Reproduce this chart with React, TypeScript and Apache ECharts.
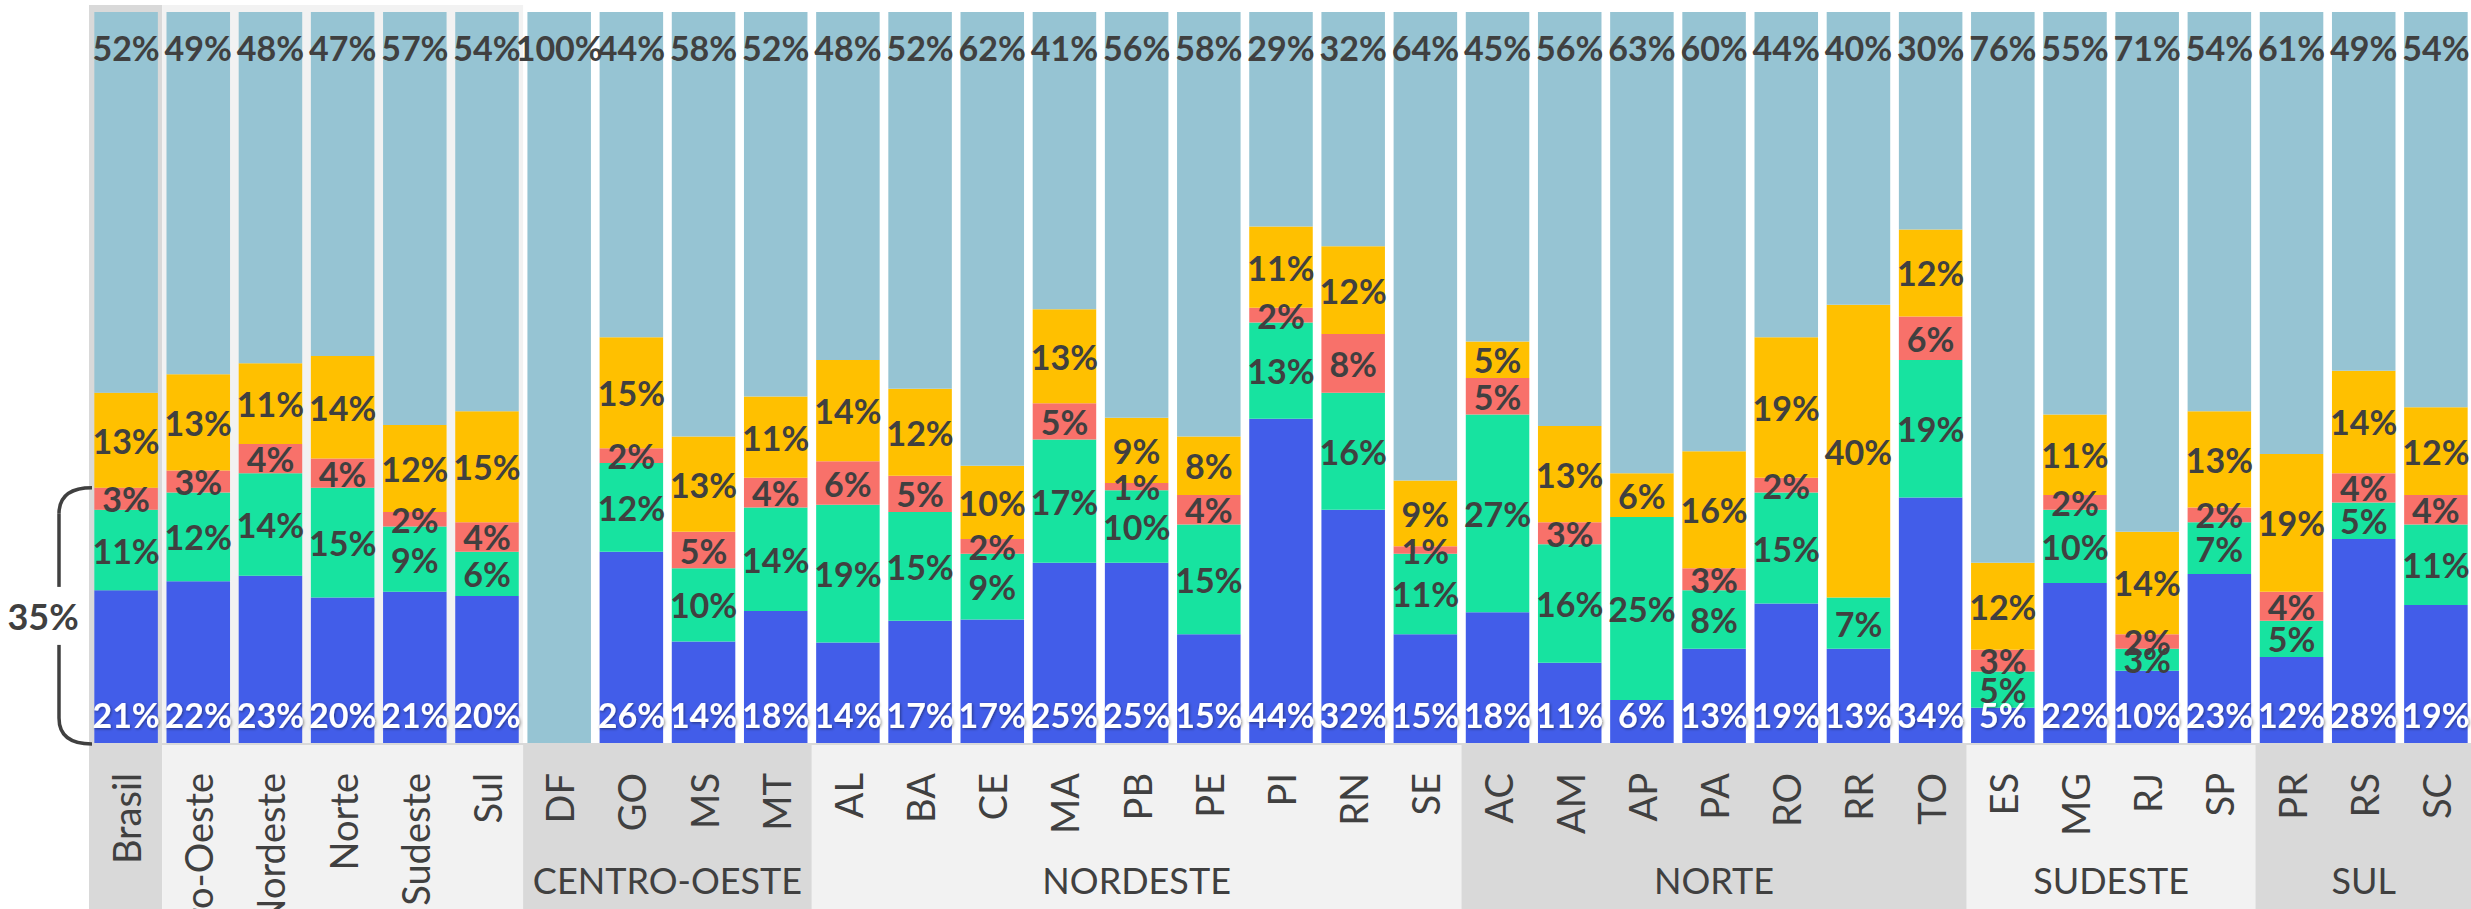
import React, { useEffect, useRef } from 'react';
import * as echarts from 'echarts';

const categories = ['Brasil', 'Centro-Oeste', 'Nordeste', 'Norte', 'Sudeste', 'Sul', 'DF', 'GO', 'MS', 'MT', 'AL', 'BA', 'CE', 'MA', 'PB', 'PE', 'PI', 'RN', 'SE', 'AC', 'AM', 'AP', 'PA', 'RO', 'RR', 'TO', 'ES', 'MG', 'RJ', 'SP', 'PR', 'RS', 'SC'];
const blueValues = [21, 22, 23, 20, 21, 20, 0, 26, 14, 18, 14, 17, 17, 25, 25, 15, 44, 32, 15, 18, 11, 6, 13, 19, 13, 34, 5, 22, 10, 23, 12, 28, 19];
const greenValues = [11, 12, 14, 15, 9, 6, 0, 12, 10, 14, 19, 15, 9, 17, 10, 15, 13, 16, 11, 27, 16, 25, 8, 15, 7, 19, 5, 10, 3, 7, 5, 5, 11];
const redValues = [3, 3, 4, 4, 2, 4, 0, 2, 5, 4, 6, 5, 2, 5, 1, 4, 2, 8, 1, 5, 3, 0, 3, 2, 0, 6, 3, 2, 2, 2, 4, 4, 4];
const yellowValues = [13, 13, 11, 14, 12, 15, 0, 15, 13, 11, 14, 12, 10, 13, 9, 8, 11, 12, 9, 5, 13, 6, 16, 19, 40, 12, 12, 11, 14, 13, 19, 14, 12];
const lightBlueValues = [52, 49, 48, 47, 57, 54, 100, 44, 58, 52, 48, 52, 62, 41, 56, 58, 29, 32, 64, 45, 56, 63, 60, 44, 40, 30, 76, 55, 71, 54, 61, 49, 54];

const groupNames = ['CENTRO-OESTE', 'NORDESTE', 'NORTE', 'SUDESTE', 'SUL'];
const groupFirst = ['DF', 'AL', 'AC', 'ES', 'PR'];
const groupLast = ['MT', 'SE', 'TO', 'SP', 'SC'];
const regionFirst = 'Centro-Oeste';
const regionLast = 'Sul';

const COLORS = {
  blue: '#425DE9',
  green: '#17E3A0',
  red: '#F8716A',
  yellow: '#FFC000',
  lightBlue: '#96C4D3',
};
const TEXT = '#404040';
const FONT = 'Lato';

export default function App() {
  const ref = useRef<HTMLDivElement>(null);

  useEffect(() => {
    const el = ref.current;
    if (!el) return;
    const chart = echarts.init(el, null, { renderer: 'svg' });

    const total = (i: number) =>
      blueValues[i] + greenValues[i] + redValues[i] + yellowValues[i] + lightBlueValues[i];
    const norm = (arr: number[]) => arr.map((v, i) => (v / total(i)) * 100);

    const baseLabel = {
      show: true,
      fontFamily: FONT,
      fontWeight: 'bold' as const,
      fontSize: 34,
      color: TEXT,
    };

    const mk = (name: string, arr: number[], color: string, label: any) => ({
      name,
      type: 'bar',
      stack: 'total',
      barCategoryGap: '12%',
      data: norm(arr),
      itemStyle: { color },
      label: {
        ...baseLabel,
        ...label,
        formatter: (p: any) => (arr[p.dataIndex] ? arr[p.dataIndex] + '%' : ''),
      },
    });

    chart.setOption({
      animation: false,
      grid: { left: 90, top: 12, width: 2382, height: 732, outerBoundsMode: 'none', containLabel: false },
      xAxis: {
        type: 'category',
        data: categories,
        z: 5,
        axisLine: { show: true, lineStyle: { color: '#D9D9D9', width: 2 } },
        axisTick: { show: false },
        axisLabel: {
          interval: 0,
          rotate: 90,
          margin: 29,
          fontFamily: FONT,
          fontSize: 38,
          color: TEXT,
        },
      },
      yAxis: { type: 'value', min: 0, max: 100, show: false, splitLine: { show: false } },
      series: [
        mk('blue', blueValues, COLORS.blue, {
          position: 'insideBottom',
          distance: 13,
          color: '#FFFFFF',
          textShadowColor: 'rgba(0,0,0,0.45)',
          textShadowBlur: 3,
          textShadowOffsetX: 1,
          textShadowOffsetY: 1,
        }),
        mk('green', greenValues, COLORS.green, { position: 'inside' }),
        mk('red', redValues, COLORS.red, { position: 'inside' }),
        mk('yellow', yellowValues, COLORS.yellow, { position: 'inside' }),
        mk('lightBlue', lightBlueValues, COLORS.lightBlue, { position: 'insideTop', distance: 18 }),
      ],
    });

    const xc = (c: string) => chart.convertToPixel({ xAxisIndex: 0 }, c) as number;
    const yp = (v: number) => chart.convertToPixel({ yAxisIndex: 0 }, v) as number;
    const bw = xc(categories[1]) - xc(categories[0]);
    const yBottom = yp(0);
    const H = 909;

    const graphics: any[] = [];
    graphics.push({
      type: 'rect', z: -1, silent: true,
      shape: { x: xc(categories[0]) - bw / 2 - 1, y: 5, width: bw + 1, height: H - 5 },
      style: { fill: '#D9D9D9' },
    });
    {
      const x0 = xc(regionFirst) - bw / 2;
      const x1 = xc(regionLast) + bw / 2;
      graphics.push({
        type: 'rect', z: -1, silent: true,
        shape: { x: x0, y: 5, width: x1 - x0, height: H - 5 },
        style: { fill: '#F2F2F2' },
      });
    }
    groupNames.forEach((g, k) => {
      const x0 = xc(groupFirst[k]) - bw / 2;
      const x1 = xc(groupLast[k]) + bw / 2;
      graphics.push({
        type: 'rect', z: -1, silent: true,
        shape: { x: x0, y: yBottom, width: x1 - x0, height: H - yBottom },
        style: { fill: k % 2 === 0 ? '#D9D9D9' : '#F2F2F2' },
      });
      graphics.push({
        type: 'text', z: 10, silent: true,
        x: (x0 + x1) / 2, y: 880,
        style: {
          text: g, fill: TEXT, font: `36px ${FONT}`,
          textAlign: 'center', textVerticalAlign: 'middle',
        },
      });
    });

    const bracketValue = blueValues[0] + greenValues[0] + redValues[0];
    const yTop = yp(bracketValue);
    const yBot = yBottom;
    const xLine = 59;
    const xEnd = 92;
    const r = 26;
    const yMid = (yTop + yBot) / 2;
    const gap = 29;
    const stroke = { stroke: TEXT, lineWidth: 3.5, fill: null };
    graphics.push(
      { type: 'bezierCurve', z: 10, silent: true, shape: { x1: xEnd, y1: yTop, x2: xLine, y2: yTop + r, cpx1: xLine, cpy1: yTop }, style: stroke },
      { type: 'line', z: 10, silent: true, shape: { x1: xLine, y1: yTop + r, x2: xLine, y2: yMid - gap }, style: stroke },
      { type: 'line', z: 10, silent: true, shape: { x1: xLine, y1: yMid + gap, x2: xLine, y2: yBot - r }, style: stroke },
      { type: 'bezierCurve', z: 10, silent: true, shape: { x1: xLine, y1: yBot - r, x2: xEnd, y2: yBot, cpx1: xLine, cpy1: yBot }, style: stroke },
      {
        type: 'text', z: 10, silent: true, x: 43, y: yMid,
        style: {
          text: bracketValue + '%', fill: TEXT, font: `bold 36px ${FONT}`,
          textAlign: 'center', textVerticalAlign: 'middle',
        },
      }
    );

    chart.setOption({ graphic: graphics });

    return () => chart.dispose();
  }, []);

  return (
    <div
      ref={ref}
      style={{ position: 'absolute', left: 0, top: 0, width: 2471, height: 909 }}
    />
  );
}
